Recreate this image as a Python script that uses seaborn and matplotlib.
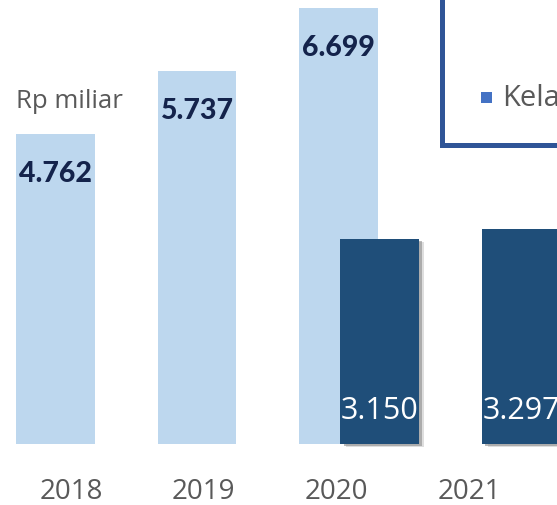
import matplotlib
matplotlib.use("Agg")
import matplotlib.pyplot as plt
import matplotlib.patheffects as pe
from matplotlib.patches import Rectangle
import seaborn as sns
import pandas as pd
import numpy as np

# ---- data ----
years = ["2018", "2019", "2020", "2021"]
light_values = [4762, 5737, 6699, np.nan]
dark_values = [np.nan, np.nan, 3150, 3297]
unit_label = "Rp miliar"
legend_text = "Kelas"

LIGHT = "#BDD7EE"
DARK = "#1F4E79"
NAVY_TXT = "#14234B"
GRAY = "#595959"

sns.set_theme(style="white")
plt.rcParams["font.family"] = ["Open Sans", "DejaVu Sans"]

W, H = 557, 506
fig = plt.figure(figsize=(W / 100, H / 100), dpi=100)
base_px = 445  # baseline (y=0) in pixels from top
ax = fig.add_axes([0, 1 - base_px / H, 1, base_px / H])

idx = np.arange(len(years), dtype=float)
offset = 0.29
light_df = pd.DataFrame({"x": idx, "v": light_values}).dropna()
dark_df = pd.DataFrame({"x": idx + offset, "v": dark_values}).dropna()

sns.barplot(data=light_df, x="x", y="v", native_scale=True, width=0.558,
            color=LIGHT, saturation=1, ax=ax, linewidth=0, edgecolor=LIGHT)
n_light = len(ax.patches)
sns.barplot(data=dark_df, x="x", y="v", native_scale=True, width=0.552,
            color=DARK, saturation=1, ax=ax, linewidth=0, edgecolor=DARK)
for p in ax.patches[n_light:]:
    p.set_clip_on(False)
    p.set_path_effects([
        pe.SimplePatchShadow(offset=(4, -2.5), shadow_rgbFace="#bfbfbf", alpha=0.5),
        pe.SimplePatchShadow(offset=(2.5, -1.5), shadow_rgbFace="#8c8c8c", alpha=0.6),
        pe.Normal()])

# scales
xmin = -55.5 / 141.5
ax.set_xlim(xmin, xmin + W / 141.5)
ppu = 0.0651
ax.set_ylim(0, base_px / ppu)

def fmt(v):
    return f"{int(v):,}".replace(",", ".")

for x, v in zip(light_df["x"], light_df["v"]):
    ax.text(x, v - 600, fmt(v), ha="center", va="center", fontsize=20.5,
            fontweight="black", color=NAVY_TXT, family=["Lato", "DejaVu Sans"])
for x, v in zip(dark_df["x"], dark_df["v"]):
    ax.text(x, 525, fmt(v), ha="center", va="center", fontsize=22,
            color="white", clip_on=True)

# year labels
tick_px = [71, 203, 336.5, 469]
ax.set_xticks([px / 141.5 + xmin for px in tick_px])
ax.set_xticklabels(years)
ax.tick_params(axis="x", length=0, labelsize=20, labelcolor=GRAY, pad=24)
ax.set_yticks([])
ax.set_xlabel("")
ax.set_ylabel("")
for s in ax.spines.values():
    s.set_visible(False)

# unit label
fig.text(16 / W, 1 - 102 / H, unit_label, ha="left", va="center",
         fontsize=18.5, color=GRAY)

# legend box (partially visible)
box = Rectangle((442 / W, 1 - 146 / H), 200 / W, 200 / H, transform=fig.transFigure,
                facecolor="white", edgecolor="#2F5597", linewidth=3.6, zorder=5)
fig.add_artist(box)
sq = Rectangle((481 / W, 1 - 104 / H), 11 / W, 11 / H, transform=fig.transFigure,
               facecolor="#4472C4", edgecolor="none", zorder=6)
fig.add_artist(sq)
fig.text(502 / W, 1 - 98 / H, legend_text, ha="left", va="center",
         fontsize=21, color=GRAY, zorder=7, clip_on=True)

fig.savefig("out.png", dpi=100)
